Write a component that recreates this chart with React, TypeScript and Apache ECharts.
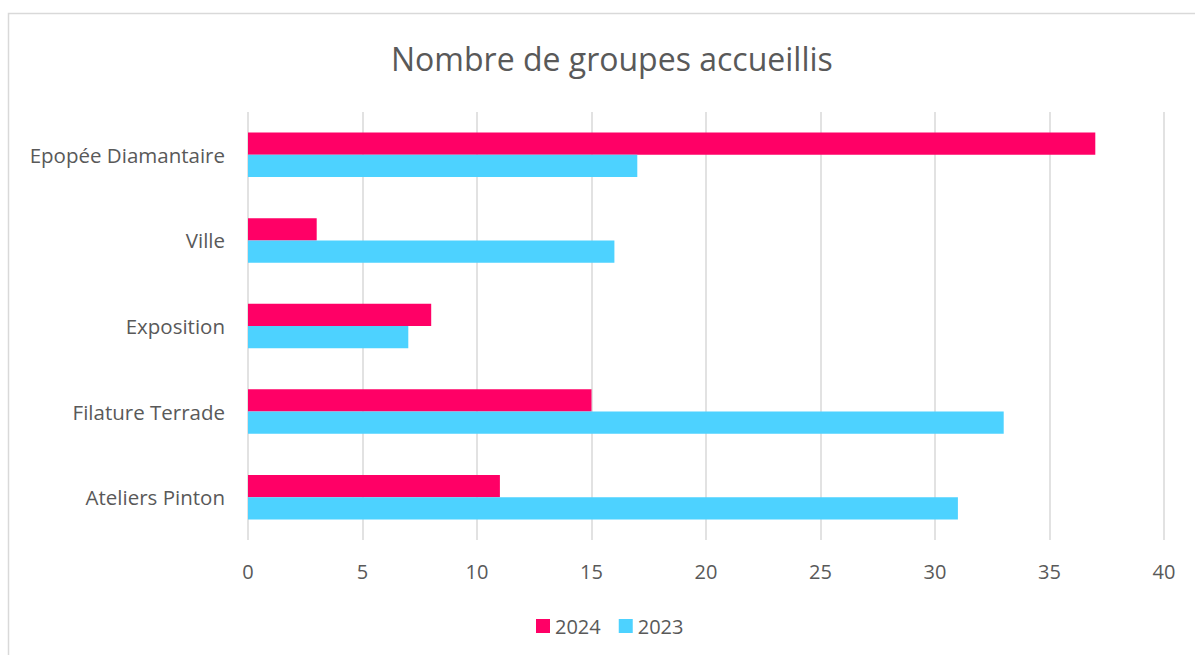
import React, { useEffect, useRef } from "react";
import * as echarts from "echarts";

const categories = ["Epopée Diamantaire", "Ville", "Exposition", "Filature Terrade", "Ateliers Pinton"];
const values2024 = [37, 3, 8, 15, 11];
const values2023 = [17, 16, 7, 33, 31];
const xTicks = [0, 5, 10, 15, 20, 25, 30, 35, 40];

const FONT = "'Open Sans', 'Noto Sans', sans-serif";
const TEXT = "#595959";

export default function App() {
  const ref = useRef<HTMLDivElement>(null);
  useEffect(() => {
    if (!ref.current) return;
    const chart = echarts.init(ref.current, undefined, { renderer: "svg" });
    chart.setOption({
      animation: false,
      backgroundColor: "#ffffff",
      title: {
        text: "Nombre de groupes accueillis",
        left: 386,
        top: 37,
        textStyle: { fontFamily: FONT, fontSize: 32, fontWeight: "normal", color: TEXT },
      },
      graphic: [
        {
          type: "rect",
          shape: { x: 8.5, y: 13.5, width: 1400, height: 900 },
          style: { fill: "none", stroke: "#d9d9d9", lineWidth: 1.5 },
          silent: true,
        },
      ],
      legend: {
        data: ["2024", "2023"],
        top: 611,
        left: 531,
        itemWidth: 14,
        itemHeight: 14,
        itemGap: 18,
        icon: "rect",
        textStyle: { fontFamily: FONT, fontSize: 20, color: TEXT },
      },
      grid: { left: 248, right: 31, top: 112, bottom: 115, containLabel: false },
      xAxis: {
        type: "value",
        min: xTicks[0],
        max: xTicks[xTicks.length - 1],
        interval: 5,
        axisLine: { show: false },
        axisTick: { show: false },
        splitLine: { show: true, lineStyle: { color: "#d9d9d9", width: 1.5 } },
        axisLabel: { fontFamily: FONT, fontSize: 20, color: TEXT, margin: 21 },
      },
      yAxis: {
        type: "category",
        data: categories,
        inverse: true,
        axisLine: { show: false },
        axisTick: { show: false },
        axisLabel: { fontFamily: FONT, fontSize: 20.5, color: TEXT, margin: 23 },
      },
      series: [
        {
          name: "2024",
          type: "bar",
          data: values2024,
          itemStyle: { color: "#FF0066" },
          barGap: "0%",
          barCategoryGap: "48%",
        },
        {
          name: "2023",
          type: "bar",
          data: values2023,
          itemStyle: { color: "#4DD2FF" },
          barGap: "0%",
          barCategoryGap: "48%",
        },
      ],
    });
    return () => chart.dispose();
  }, []);
  return (
    <div
      ref={ref}
      style={{ position: "absolute", left: 0, top: 0, width: 1195, height: 655 }}
    />
  );
}
